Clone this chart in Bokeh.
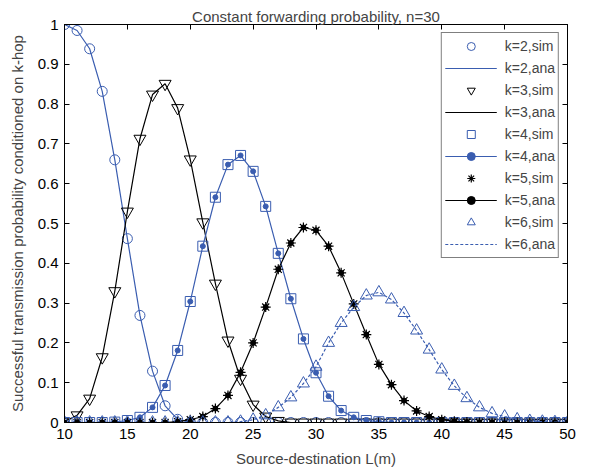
from bokeh.plotting import figure
from bokeh.models import LinearAxis, FixedTicker, Legend, LegendItem, Range1d
from bokeh.embed import file_html
from bokeh.resources import INLINE

# ---- data ----
L = list(range(10, 51))

k2 = [1.000, 0.985, 0.939, 0.832, 0.660, 0.462, 0.269, 0.129, 0.042, 0.008, 0.001] + [0.0] * 30

k3 = [0.002, 0.018, 0.060, 0.164, 0.330, 0.530, 0.713, 0.824, 0.851, 0.790,
      0.661, 0.503, 0.349, 0.206, 0.110, 0.045, 0.015, 0.004] + [0.0] * 23

k4 = [0.0, 0.0, 0.0, 0.0, 0.001, 0.005, 0.013, 0.038, 0.093, 0.181,
      0.304, 0.443, 0.566, 0.648, 0.671, 0.631, 0.543, 0.425, 0.311, 0.210,
      0.125, 0.066, 0.030, 0.013, 0.005, 0.002] + [0.0] * 15

k5 = [0.0] * 9 + [0.002, 0.007, 0.015, 0.035, 0.068, 0.126, 0.200, 0.290, 0.385, 0.451,
                  0.490, 0.483, 0.443, 0.376, 0.298, 0.221, 0.146, 0.095, 0.055, 0.029,
                  0.015, 0.007, 0.003, 0.001] + [0.0] * 8

k6 = [0.0] * 14 + [0.002, 0.007, 0.018, 0.038, 0.063, 0.098, 0.140, 0.200, 0.250, 0.290,
                   0.319, 0.327, 0.309, 0.275, 0.231, 0.183, 0.133, 0.092, 0.061, 0.038,
                   0.023, 0.015, 0.008, 0.004, 0.002, 0.001, 0.0]

x_ticks = [10, 15, 20, 25, 30, 35, 40, 45, 50]
y_ticks = [0, 0.1, 0.2, 0.3, 0.4, 0.5, 0.6, 0.7, 0.8, 0.9, 1]
y_tick_labels = ["0", "0.1", "0.2", "0.3", "0.4", "0.5", "0.6", "0.7", "0.8", "0.9", "1"]

BLUE = "#3a5db0"
BLACK = "#000000"
FONT = "Liberation Sans"
FS = "15px"

p = figure(width=589, height=470, output_backend="svg", toolbar_location=None,
           x_range=Range1d(10, 50), y_range=Range1d(0, 1),
           min_border_left=64, min_border_right=22, min_border_top=24, min_border_bottom=48,
           title="Constant forwarding probability, n=30")
p.title.align = "center"
p.title.text_font = FONT
p.title.text_font_size = FS
p.title.text_font_style = "normal"
p.title.offset = 0
p.title.standoff = 0
p.grid.visible = False
p.outline_line_color = "black"
p.background_fill_color = "white"
p.border_fill_color = "white"

def style_axis(ax, labels=True):
    ax.major_tick_in = 5
    ax.major_tick_out = 0
    ax.minor_tick_line_color = None
    ax.axis_line_color = "black"
    ax.major_tick_line_color = "black"
    ax.major_label_text_font = FONT
    ax.major_label_text_font_size = FS
    ax.major_label_text_color = "black"
    ax.axis_label_text_font = FONT
    ax.axis_label_text_font_size = FS
    ax.axis_label_text_font_style = "normal"
    if not labels:
        ax.major_label_text_font_size = "0px"
        ax.major_label_text_color = None
        ax.major_label_standoff = 0

p.xaxis.ticker = FixedTicker(ticks=x_ticks)
p.yaxis.ticker = FixedTicker(ticks=y_ticks)
p.yaxis.major_label_overrides = {t: s for t, s in zip(y_ticks, y_tick_labels)}
p.xaxis.axis_label = "Source-destination L(m)"
p.yaxis.axis_label = "Successful transmission probability conditioned on k-hop"
style_axis(p.xaxis[0])
style_axis(p.yaxis[0])
p.xaxis.major_label_standoff = 6
p.yaxis.major_label_standoff = 6
p.xaxis.axis_label_standoff = 8
p.yaxis.axis_label_standoff = 9

top = LinearAxis(ticker=FixedTicker(ticks=x_ticks))
right = LinearAxis(ticker=FixedTicker(ticks=y_ticks))
style_axis(top, labels=False)
style_axis(right, labels=False)
p.add_layout(top, "above")
p.add_layout(right, "right")

# ---- glyphs ----
r2s = p.scatter(L, k2, marker="circle", size=10, fill_color=None, line_color=BLUE, line_width=1)
r2a = p.line(L, k2, line_color=BLUE, line_width=1.2)

r3s = p.scatter(L, k3, marker="inverted_triangle", size=12, fill_color=None, line_color=BLACK, line_width=1)
r3a = p.line(L, k3, line_color=BLACK, line_width=1.2)

r4s = p.scatter(L, k4, marker="square", size=10, fill_color=None, line_color=BLUE, line_width=1)
r4a = p.line(L, k4, line_color=BLUE, line_width=1.2)
r4d = p.scatter(L, k4, marker="circle", size=5, fill_color=BLUE, line_color=BLUE)

r5s = p.scatter(L, k5, marker="asterisk", size=10, line_color=BLACK, line_width=1.2)
r5a = p.line(L, k5, line_color=BLACK, line_width=1.2)
r5d = p.scatter(L, k5, marker="circle", size=5, fill_color=BLACK, line_color=BLACK)

r6s = p.scatter(L, k6, marker="triangle", size=12, fill_color=None, line_color=BLUE, line_width=1)
r6a = p.line(L, k6, line_color=BLUE, line_width=1.2, line_dash="3 2")

legend = Legend(items=[
    LegendItem(label="k=2,sim", renderers=[r2s]),
    LegendItem(label="k=2,ana", renderers=[r2a]),
    LegendItem(label="k=3,sim", renderers=[r3s]),
    LegendItem(label="k=3,ana", renderers=[r3a]),
    LegendItem(label="k=4,sim", renderers=[r4s]),
    LegendItem(label="k=4,ana", renderers=[r4a, r4d]),
    LegendItem(label="k=5,sim", renderers=[r5s]),
    LegendItem(label="k=5,ana", renderers=[r5a, r5d]),
    LegendItem(label="k=6,sim", renderers=[r6s]),
    LegendItem(label="k=6,ana", renderers=[r6a]),
], location="top_right")
legend.margin = 8
legend.padding = 3
legend.spacing = 2
legend.glyph_height = 20
legend.label_height = 20
legend.glyph_width = 52
legend.label_standoff = 8
legend.label_text_font = FONT
legend.label_text_font_size = "14px"
legend.border_line_color = "black"
legend.border_line_width = 1
legend.background_fill_alpha = 1
p.add_layout(legend)

open("out.html", "w").write(file_html(p, INLINE))
